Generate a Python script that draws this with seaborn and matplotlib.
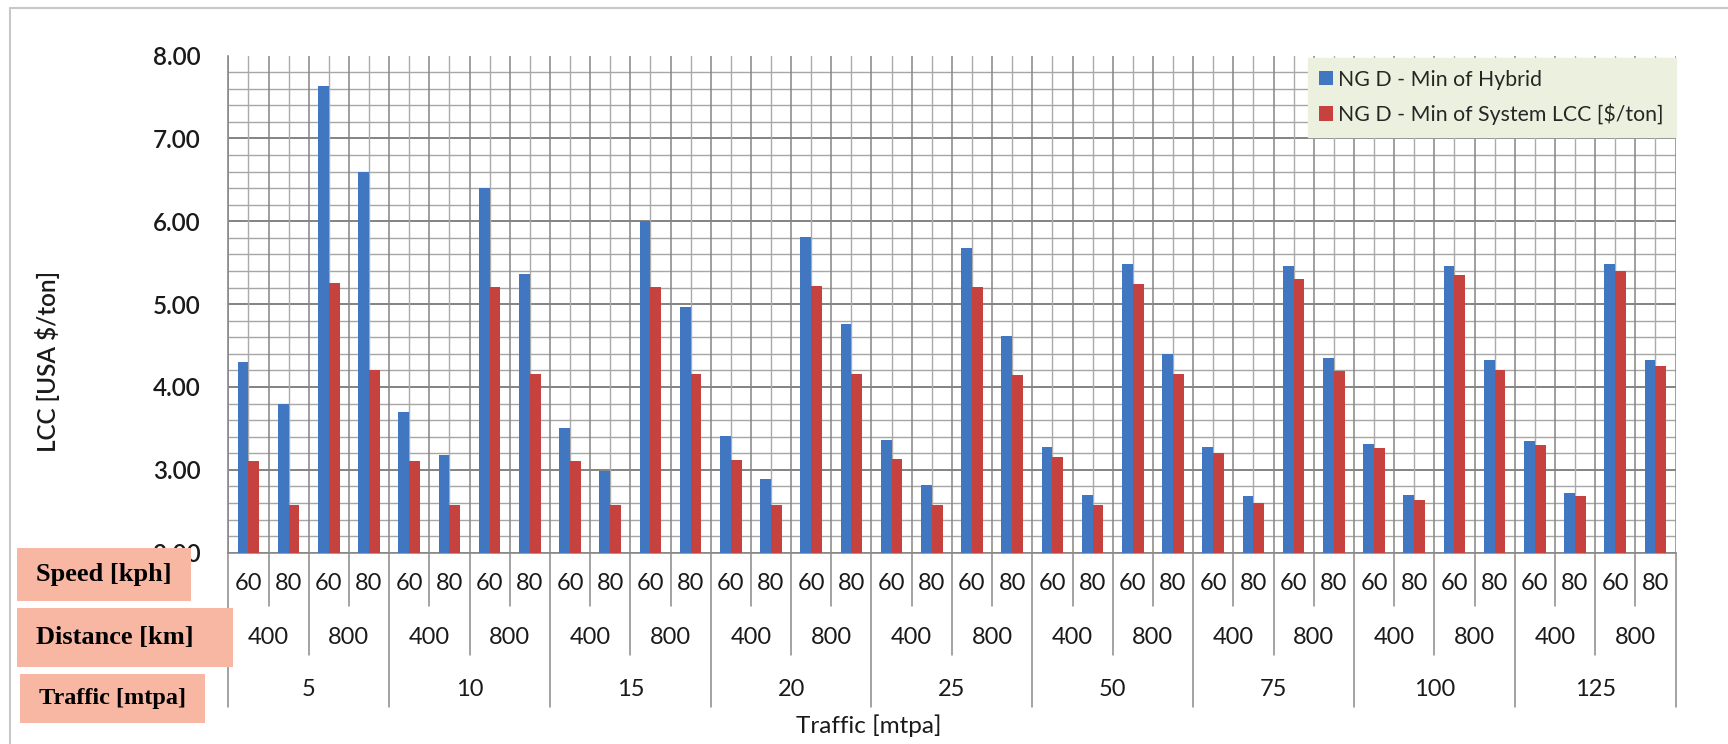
import numpy as np
import pandas as pd
import seaborn as sns
import matplotlib
matplotlib.use("Agg")
import matplotlib.pyplot as plt
from matplotlib.transforms import blended_transform_factory
from matplotlib.lines import Line2D
from matplotlib.patches import Rectangle

# ---- data -------------------------------------------------------------
traffic = ["5", "10", "15", "20", "25", "50", "75", "100", "125"]
distances = ["400", "800"]
speeds = ["60", "80"]

hybrid = [4.30, 3.79, 7.63, 6.59,
          3.70, 3.18, 6.40, 5.36,
          3.51, 2.98, 6.00, 4.96,
          3.41, 2.89, 5.81, 4.76,
          3.36, 2.82, 5.68, 4.61,
          3.27, 2.70, 5.48, 4.40,
          3.28, 2.68, 5.46, 4.35,
          3.31, 2.70, 5.46, 4.33,
          3.35, 2.72, 5.48, 4.33]
system_lcc = [3.11, 2.58, 5.26, 4.20,
              3.11, 2.58, 5.21, 4.16,
              3.11, 2.58, 5.21, 4.16,
              3.12, 2.58, 5.22, 4.16,
              3.13, 2.57, 5.21, 4.14,
              3.16, 2.58, 5.24, 4.16,
              3.20, 2.60, 5.30, 4.19,
              3.26, 2.64, 5.35, 4.20,
              3.30, 2.68, 5.40, 4.25]

series_names = ["NG D - Min of Hybrid", "NG D - Min of System LCC [$/ton]"]
series_colors = ["#4177C1", "#C6423F"]
y_ticks = [2, 3, 4, 5, 6, 7, 8]
level_titles = ["Speed [kph]", "Distance [km]", "Traffic [mtpa]"]

# ---- setup ------------------------------------------------------------
W, H = 1728, 744
sns.set_theme(style="white")
plt.rcParams["font.family"] = ["Lato", "DejaVu Sans"]

keys = [f"{t}|{d}|{s}" for t in traffic for d in distances for s in speeds]
n = len(keys)
df = pd.DataFrame({
    "key": keys * 2,
    "value": hybrid + system_lcc,
    "series": [series_names[0]] * n + [series_names[1]] * n,
})

fig = plt.figure(figsize=(W / 100, H / 100), dpi=100)
fig.patch.set_facecolor("white")


def fx(px):
    return px / W


def fy(py):
    return 1 - py / H


ax_left, ax_right, ax_top, ax_bot = 228.3, 1675.5, 55.5, 552.7
ax = fig.add_axes([fx(ax_left), fy(ax_bot), fx(ax_right) - fx(ax_left), fy(ax_top) - fy(ax_bot)])

sns.barplot(data=df, x="key", y="value", hue="series", order=keys,
            hue_order=series_names, palette=series_colors, width=0.54,
            saturation=1, linewidth=0, zorder=3, ax=ax)

ax.set_xlim(-0.5, n - 0.5)
ax.set_ylim(2, 8)

# gridlines
for yv in np.arange(2.0, 8.001, 0.2):
    major = abs(yv - round(yv)) < 1e-6
    ax.axhline(yv, color="#7a7a7a" if major else "#a6a6a6",
               lw=1.3 if major else 1.0, zorder=1)
for xv in np.arange(-0.5, n, 1.0):
    ax.axvline(xv, color="#858585", lw=1.1, zorder=1)
for xv in range(n):
    ax.axvline(xv, color="#aaaaaa", lw=1.0, zorder=1)

for side in ["top", "right"]:
    ax.spines[side].set_visible(False)
for side in ["left", "bottom"]:
    ax.spines[side].set_color("#8a8a8a")
    ax.spines[side].set_linewidth(1.2)

ax.set_yticks(y_ticks)
ax.set_yticklabels([f"{v:.2f}" for v in y_ticks])
ax.tick_params(axis="y", direction="out", length=7, width=1.1, color="#8a8a8a",
               labelsize=17.5, pad=13, labelcolor="#1a1a1a")
for lab in ax.get_yticklabels():
    lab.set_fontweight("semibold")
ax.set_xticks([])
ax.set_xlabel("")
ax.set_ylabel("")

# legend
handles, labels = ax.get_legend_handles_labels()
leg = ax.legend(handles, labels, loc="upper right", bbox_to_anchor=(1.0, 0.995),
                borderaxespad=0, frameon=True, fancybox=False, facecolor="#EBF1DE",
                edgecolor="#EBF1DE", framealpha=1, fontsize=15.3, handlelength=0.65,
                handleheight=0.65, handletextpad=0.25, labelspacing=0.65,
                borderpad=0.55)
leg.set_zorder(10)

# multi-level category axis
bt = blended_transform_factory(ax.transData, fig.transFigure)
sep_color = "#8a8a8a"
row_y = {"speed": 584, "distance": 637, "traffic": 690}
row_end = {"speed": 606, "distance": 655, "traffic": 707}
cat_fs = 17

for i, key in enumerate(keys):
    ax.text(i, fy(row_y["speed"]), key.split("|")[2], transform=bt, ha="center",
            va="center", fontsize=cat_fs, color="#1a1a1a", clip_on=False)
for j in range(n // 2):
    ax.text(2 * j + 0.5, fy(row_y["distance"]), distances[j % 2], transform=bt,
            ha="center", va="center", fontsize=cat_fs, color="#1a1a1a", clip_on=False)
for g, t in enumerate(traffic):
    ax.text(4 * g + 1.5, fy(row_y["traffic"]), t, transform=bt, ha="center",
            va="center", fontsize=cat_fs, color="#1a1a1a", clip_on=False)

for b in range(n + 1):
    xb = b - 0.5
    if b % 4 == 0:
        end = row_end["traffic"]
    elif b % 2 == 0:
        end = row_end["distance"]
    else:
        end = row_end["speed"]
    ax.add_line(Line2D([xb, xb], [fy(ax_bot), fy(end)], transform=bt,
                       color=sep_color, lw=1.1, clip_on=False))

fig.text(fx(869), fy(726), "Traffic [mtpa]", ha="center", va="center",
         fontsize=17.5, color="#1a1a1a")
fig.text(fx(48), fy(361), "LCC [USA $/ton]", ha="center", va="center",
         rotation=90, fontsize=17.5, fontweight="semibold", color="#1a1a1a")

# level title boxes
boxes = [(16.5, 547.7, 190.6, 600.6, 19),
         (16.5, 608.0, 232.5, 667.0, 19),
         (20.0, 674.0, 205.0, 723.0, 17.5)]
for (x0, y0, x1, y1, fs), title in zip(boxes, level_titles):
    fig.add_artist(Rectangle((fx(x0), fy(y1)), fx(x1) - fx(x0), fy(y0) - fy(y1),
                             transform=fig.transFigure, facecolor="#F7B7A3",
                             edgecolor="none", zorder=20))
    fig.text(fx(x0 + 19), (fy(y0) + fy(y1)) / 2, title, ha="left", va="center",
             family=["Liberation Serif", "DejaVu Serif"], fontweight="bold",
             fontsize=fs, color="black", zorder=21)

# chart frame: left and top edges
frame_kw = dict(transform=fig.transFigure, color="#c8c8c8", lw=1.5, zorder=0)
fig.add_artist(Line2D([fx(10), fx(10)], [fy(8), 0], **frame_kw))
fig.add_artist(Line2D([fx(10), 1], [fy(8), fy(8)], **frame_kw))

fig.savefig("out.png", dpi=100)
